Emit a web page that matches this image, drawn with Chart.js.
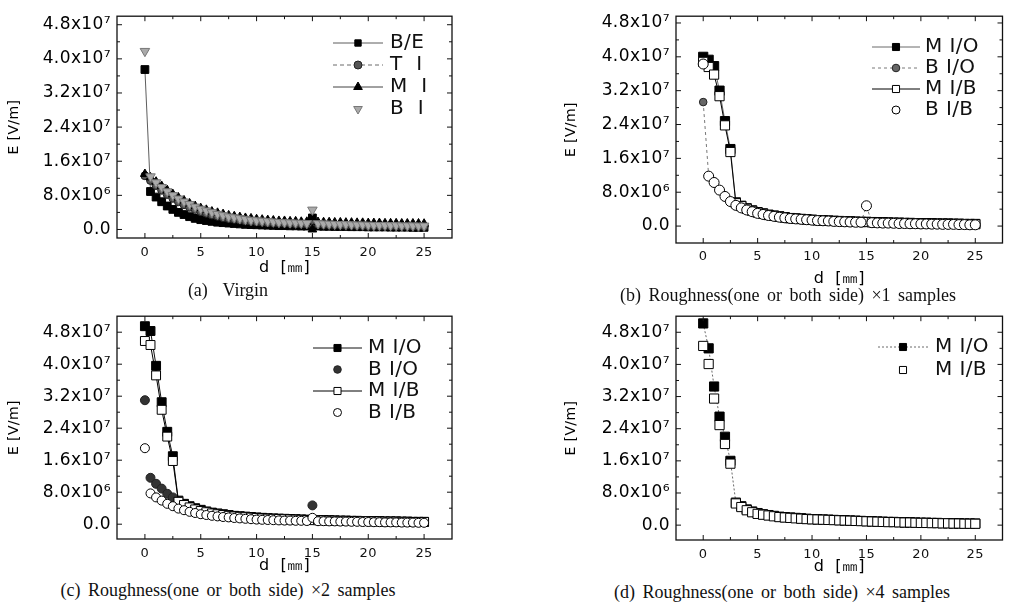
<!DOCTYPE html>
<html lang="en">
<head>
  <meta charset="UTF-8">
  <title>E vs d - Virgin and roughness samples</title>
  <script src="https://cdn.jsdelivr.net/npm/chart.js"></script>
  <style>
   body { margin: 0; width: 1010px; height: 602px; background: #fff; position: relative; overflow: hidden; }
   canvas { position: absolute; }
   .cap { position: absolute; font-family: "Liberation Serif", "Times New Roman", serif; font-size: 18px; line-height: 20px;
          color: #111; white-space: pre; transform: translateX(-50%); word-spacing: 3px; }
  </style>
</head>
<body>
  <canvas id="ca" width="460" height="280" style="left:0;top:0"></canvas>
  <canvas id="cb" width="453" height="288" style="left:557px;top:0"></canvas>
  <canvas id="cc" width="460" height="280" style="left:0;top:300px"></canvas>
  <canvas id="cd" width="453" height="280" style="left:557px;top:300px"></canvas>
  <div class="cap" style="left:228px;top:280px">(a)  Virgin</div>
  <div class="cap" style="left:788px;top:285px">(b) Roughness(one or both side) ×1 samples</div>
  <div class="cap" style="left:228px;top:580px">(c) Roughness(one or both side) ×2 samples</div>
  <div class="cap" style="left:782px;top:582px">(d) Roughness(one or both side) ×4 samples</div>

<script>
// distance d [mm] and field E in units of 10^6 V/m
const dmm = [0,0.5,1,1.5,2,2.5,3,3.5,4,4.5,5,
             5.5,6,6.5,7,7.5,8,8.5,9,9.5,10,
             10.5,11,11.5,12,12.5,13,13.5,14,14.5,15,
             15.5,16,16.5,17,17.5,18,18.5,19,19.5,20,
             20.5,21,21.5,22,22.5,23,23.5,24,24.5,25];

const xTicks = [0, 5, 10, 15, 20, 25];
const yTicks = [0, 8, 16, 24, 32, 40, 48];
const yTickLabels = ['0.0', '8.0x10⁶', '1.6x10⁷', '2.4x10⁷', '3.2x10⁷', '4.0x10⁷', '4.8x10⁷'];

// (a) Virgin
const aBE = [37.5,8.9,7.6,6.5,5.5,4.7,4.0,3.5,3.0,2.6,2.3,
             2.1,1.9,1.7,1.6,1.5,1.4,1.3,1.2,1.15,1.1,
             1.05,1.0,0.95,0.9,0.9,0.85,0.85,0.8,0.8,2.7,
             0.8,0.75,0.75,0.7,0.7,0.7,0.65,0.65,0.65,0.6,
             0.6,0.6,0.6,0.55,0.55,0.55,0.55,0.5,0.5,0.5];
const aTI = [12.6,11.5,10.3,9.2,8.2,7.3,6.5,5.8,5.2,4.7,4.2,
             3.8,3.4,3.1,2.8,2.6,2.4,2.2,2.0,1.9,1.8,
             1.7,1.6,1.55,1.5,1.45,1.4,1.35,1.3,1.25,1.2,
             1.2,1.15,1.1,1.1,1.05,1.0,1.0,0.95,0.95,0.9,
             0.9,0.9,0.85,0.85,0.8,0.8,0.8,0.75,0.75,0.7];
const aMI = [13.0,12.2,11.2,10.2,9.2,8.3,7.5,6.8,6.1,5.5,5.0,
             4.6,4.2,3.9,3.6,3.3,3.1,2.9,2.7,2.6,2.4,
             2.3,2.2,2.1,2.0,2.0,1.9,1.9,1.8,1.8,0.0,
             1.75,1.7,1.7,1.65,1.65,1.6,1.6,1.55,1.55,1.5,
             1.5,1.5,1.45,1.45,1.45,1.4,1.4,1.4,1.4,1.35];
const aBI = [41.8,12.4,11.0,9.9,8.9,8.0,7.2,6.5,5.9,5.3,4.8,
             4.4,4.0,3.6,3.3,3.0,2.8,2.6,2.4,2.2,2.1,
             2.0,1.9,1.8,1.7,1.65,1.6,1.55,1.5,1.45,4.6,
             1.4,1.35,1.3,1.25,1.2,1.2,1.15,1.1,1.1,1.05,
             1.0,1.0,1.0,0.95,0.95,0.9,0.9,0.9,0.85,0.85];

// (b) x1 samples
const bMIO = [40.0,39.3,37.8,32.0,24.8,18.2,5.6,4.8,4.2,3.7,3.3,
              3.0,2.7,2.5,2.3,2.1,1.9,1.8,1.7,1.6,1.5,
              1.4,1.35,1.3,1.25,1.2,1.15,1.1,1.05,1.0,1.0,
              0.95,0.9,0.9,0.85,0.8,0.8,0.75,0.75,0.7,0.7,
              0.65,0.65,0.6,0.6,0.6,0.55,0.55,0.5,0.5,0.5];
const bBIO = [29.3,11.9,10.4,8.6,7.1,5.9,5.0,4.4,3.9,3.4,3.0,
              2.75,2.5,2.3,2.1,1.95,1.8,1.7,1.6,1.5,1.4,
              1.3,1.25,1.2,1.1,1.05,1.0,0.95,0.9,0.9,4.7,
              0.8,0.75,0.7,0.7,0.65,0.6,0.6,0.55,0.55,0.5,
              0.5,0.45,0.45,0.4,0.4,0.4,0.35,0.35,0.3,0.3];
const bMIB = [38.8,37.6,35.8,30.7,23.8,17.5,5.4,4.7,4.1,3.6,3.2,
              2.9,2.6,2.4,2.2,2.0,1.85,1.75,1.65,1.55,1.45,
              1.35,1.3,1.25,1.2,1.15,1.1,1.05,1.0,0.95,0.95,
              0.9,0.85,0.85,0.8,0.75,0.75,0.7,0.7,0.65,0.65,
              0.6,0.6,0.55,0.55,0.55,0.5,0.5,0.45,0.45,0.45];
const bBIB = [38.3,11.8,10.3,8.5,7.0,5.8,4.9,4.3,3.8,3.4,3.0,
              2.75,2.5,2.3,2.1,1.95,1.8,1.7,1.6,1.5,1.4,
              1.3,1.25,1.2,1.1,1.05,1.0,0.95,0.9,0.9,4.8,
              0.8,0.75,0.7,0.7,0.65,0.6,0.6,0.55,0.55,0.5,
              0.5,0.45,0.45,0.4,0.4,0.4,0.35,0.35,0.3,0.3];

// (c) x2 samples
const cMIO = [49.5,48.3,39.6,30.5,23.1,17.0,5.9,5.1,4.5,4.0,3.6,
              3.2,2.9,2.7,2.5,2.3,2.1,2.0,1.9,1.8,1.7,
              1.6,1.5,1.45,1.4,1.35,1.3,1.25,1.2,1.15,1.1,
              1.05,1.0,1.0,0.95,0.9,0.9,0.85,0.85,0.8,0.8,
              0.75,0.75,0.7,0.7,0.7,0.65,0.65,0.6,0.6,0.6];
const cBIO = [31.0,11.6,10.1,8.9,7.6,6.7,5.2,4.3,3.6,3.0,2.7,
              2.5,2.3,2.1,1.95,1.85,1.75,1.65,1.55,1.45,1.35,
              1.3,1.25,1.2,1.15,1.1,1.05,1.0,1.0,0.95,4.7,
              0.9,0.9,0.85,0.85,0.8,0.8,0.75,0.75,0.7,0.7,
              0.65,0.65,0.6,0.6,0.6,0.55,0.55,0.5,0.5,0.5];
const cMIB = [45.8,44.8,37.2,28.6,21.9,15.8,5.6,4.8,4.2,3.7,3.3,
              3.0,2.7,2.5,2.3,2.1,1.95,1.85,1.75,1.65,1.55,
              1.45,1.4,1.35,1.3,1.25,1.2,1.15,1.1,1.05,1.0,
              1.0,0.95,0.9,0.9,0.85,0.85,0.8,0.8,0.75,0.75,
              0.7,0.7,0.65,0.65,0.65,0.6,0.6,0.55,0.55,0.55];
const cBIB = [19.0,7.7,6.7,5.9,5.1,4.5,3.9,3.5,3.1,2.8,2.5,
              2.3,2.1,1.95,1.8,1.7,1.55,1.45,1.35,1.25,1.15,
              1.1,1.05,1.0,0.95,0.9,0.9,0.85,0.85,0.8,1.6,
              0.75,0.75,0.7,0.7,0.65,0.65,0.6,0.6,0.55,0.55,
              0.5,0.5,0.45,0.45,0.45,0.4,0.4,0.4,0.35,0.35];

// (d) x4 samples
const dMIO = [50.2,44.0,34.5,27.0,22.0,16.0,5.6,4.7,3.9,3.4,3.0,
              2.7,2.5,2.3,2.1,2.0,1.9,1.8,1.7,1.6,1.5,
              1.45,1.4,1.35,1.3,1.25,1.2,1.15,1.1,1.05,1.0,
              0.95,0.9,0.85,0.8,0.8,0.75,0.7,0.7,0.65,0.6,
              0.6,0.55,0.55,0.5,0.5,0.45,0.45,0.4,0.4,0.4];
const dMIB = [44.6,40.1,31.5,24.9,20.2,15.3,5.4,4.5,3.7,3.2,2.8,
              2.6,2.4,2.2,2.0,1.9,1.8,1.7,1.6,1.5,1.45,
              1.4,1.35,1.3,1.25,1.2,1.15,1.1,1.05,1.0,0.95,
              0.9,0.85,0.8,0.75,0.75,0.7,0.65,0.65,0.6,0.55,
              0.55,0.5,0.5,0.45,0.45,0.4,0.4,0.35,0.35,0.35];

const SANS = '"DejaVu Sans", Verdana, sans-serif';

function pts(ys) { return dmm.map((d, i) => ({ x: d, y: ys[i] })); }

// styles of the marker kinds
function sq(filled, r)   { return { pointStyle: 'rect', pointRadius: r, pointBackgroundColor: filled ? '#000' : '#fff', pointBorderColor: '#000' }; }
function circ(fill, r)   { return { pointStyle: 'circle', pointRadius: r, pointBackgroundColor: fill, pointBorderColor: fill === '#fff' ? '#000' : '#222' }; }
function line(color, w, dash) { return { showLine: true, borderColor: color, borderWidth: w, borderDash: dash || [] }; }
const noLine = { showLine: false, borderColor: '#000', borderWidth: 1 };

function ds(label, ys, order, marker, ln, legR) {
  return Object.assign({ label: label, data: pts(ys), order: order, pointBorderWidth: 1, legendRadius: legR, tension: 0 }, marker, ln);
}

// the scanned lettering is wide: a little letter spacing for all canvas text
const wideText = {
  id: 'wideText',
  beforeInit(chart) { chart.ctx.letterSpacing = '0.4px'; },
  beforeDraw(chart) { chart.ctx.letterSpacing = '0.4px'; }
};

// frame round the plot with inward ticks on all four sides
const framePlugin = {
  id: 'frame',
  afterDatasetsDraw(chart) {
    const { ctx, chartArea: a, scales: { x, y } } = chart;
    ctx.save();
    ctx.strokeStyle = '#111';
    ctx.lineWidth = 1.3;
    ctx.strokeRect(a.left, a.top, a.right - a.left, a.bottom - a.top);
    ctx.lineWidth = 1;
    ctx.beginPath();
    xTicks.forEach((v, i) => {
      const p = x.getPixelForValue(v);
      ctx.moveTo(p, a.bottom); ctx.lineTo(p, a.bottom - 5);
      ctx.moveTo(p, a.top);    ctx.lineTo(p, a.top + 5);
      if (i < xTicks.length - 1) {
        const m = x.getPixelForValue((v + xTicks[i + 1]) / 2);
        ctx.moveTo(m, a.bottom); ctx.lineTo(m, a.bottom - 3);
        ctx.moveTo(m, a.top);    ctx.lineTo(m, a.top + 3);
      }
    });
    yTicks.forEach((v, i) => {
      const p = y.getPixelForValue(v);
      ctx.moveTo(a.left, p);  ctx.lineTo(a.left + 5, p);
      ctx.moveTo(a.right, p); ctx.lineTo(a.right - 5, p);
      if (i < yTicks.length - 1) {
        const m = y.getPixelForValue((v + yTicks[i + 1]) / 2);
        ctx.moveTo(a.left, m);  ctx.lineTo(a.left + 3, m);
        ctx.moveTo(a.right, m); ctx.lineTo(a.right - 3, m);
      }
    });
    ctx.stroke();
    ctx.restore();
  }
};

// legend inside the plot: line - marker - line, then label
const boxLegend = {
  id: 'boxLegend',
  afterDraw(chart, args, o) {
    const ctx = chart.ctx;
    ctx.save();
    chart.data.datasets.forEach((d, i) => {
      const yy = o.top + i * o.gap;
      const mx = o.left + o.len / 2;
      if (d.showLine) {
        ctx.strokeStyle = d.borderColor; ctx.lineWidth = d.borderWidth;
        ctx.setLineDash(d.borderDash || []);
        ctx.beginPath(); ctx.moveTo(o.left, yy); ctx.lineTo(o.left + o.len, yy); ctx.stroke();
        ctx.setLineDash([]);
      }
      ctx.fillStyle = d.pointBackgroundColor; ctx.strokeStyle = d.pointBorderColor; ctx.lineWidth = 1;
      Chart.helpers.drawPoint(ctx, { pointStyle: d.pointStyle, rotation: d.pointRotation || 0,
                                     radius: d.legendRadius, borderWidth: 1 }, mx, yy);
      ctx.fillStyle = '#111'; ctx.font = o.font; ctx.textAlign = 'left'; ctx.textBaseline = 'middle';
      ctx.fillText(d.label, o.textX, yy);
    });
    ctx.restore();
  }
};

function panel(id, datasets, c) {
  return new Chart(document.getElementById(id), {
    type: 'scatter',
    data: { datasets: datasets },
    plugins: [wideText, framePlugin, boxLegend],
    options: {
      responsive: false, animation: false, devicePixelRatio: 1,
      layout: { padding: { left: 0, top: c.padTop, right: c.padRight, bottom: 0 } },
      scales: {
        x: {
          type: 'linear', min: -2.5, max: 27.5,
          afterBuildTicks: s => { s.ticks = xTicks.map(v => ({ value: v })); },
          afterFit: s => { s.height = c.xH; },
          grid: { display: false, drawTicks: false }, border: { display: false },
          ticks: { padding: c.xPad, color: '#111', maxRotation: 0, font: { family: SANS, size: 13 }, callback: v => String(v) },
          title: { display: true, text: 'd  [㎜]', color: '#000', font: { family: SANS, size: 16 }, padding: { top: 0, bottom: c.titleB } }
        },
        y: {
          min: c.yMin, max: c.yMax,
          afterBuildTicks: s => { s.ticks = yTicks.map(v => ({ value: v })); },
          afterFit: s => { s.width = c.yW; },
          grid: { display: false, drawTicks: false }, border: { display: false },
          ticks: { padding: 6, color: '#000', font: { family: SANS, size: 17 }, callback: v => yTickLabels[yTicks.indexOf(v)] },
          title: { display: true, text: 'E [V/m]', color: '#000', font: { family: SANS, size: 14 }, padding: { top: 6, bottom: 0 } }
        }
      },
      plugins: {
        legend: { display: false }, tooltip: { enabled: false },
        boxLegend: c.legend
      }
    }
  });
}

const LEG_FONT = '20px ' + SANS;

panel('ca', [
  ds('B/E',  aBE, 4, sq(true, 5.5), line('#333', 0.8), 4.5),
  ds('T  I', aTI, 3, circ('#555', 4), line('#444', 0.8, [4, 3]), 4),
  ds('M  I', aMI, 2, { pointStyle: 'triangle', pointRadius: 5, pointBackgroundColor: '#000', pointBorderColor: '#000' }, line('#111', 0.8), 5),
  ds('B  I', aBI, 1, { pointStyle: 'triangle', pointRotation: 180, pointRadius: 5.5, pointBackgroundColor: '#aaa', pointBorderColor: '#777' }, noLine, 5)
], { padTop: 10, padRight: 8, yW: 117, xH: 42, xPad: 7, titleB: 3, yMin: -2, yMax: 50,
     legend: { left: 333, len: 50, textX: 390, top: 43, gap: 22, font: LEG_FONT } });

panel('cb', [
  ds('M I/O', bMIO, 4, sq(true, 6.5), line('#444', 0.8), 5),
  ds('B I/O', bBIO, 3, circ('#666', 3.8), line('#555', 0.8, [3, 3]), 3.8),
  ds('M I/B', bMIB, 2, sq(false, 6.5), line('#000', 1), 5),
  ds('B I/B', bBIB, 1, circ('#fff', 5), noLine, 4)
], { padTop: 15, padRight: 3, yW: 119, xH: 45, xPad: 6, titleB: 0, yMin: -4, yMax: 49.6,
     legend: { left: 315, len: 48, textX: 368, top: 47, gap: 21, font: LEG_FONT } });

panel('cc', [
  ds('M I/O', cMIO, 4, sq(true, 6.3), line('#111', 1), 5),
  ds('B I/O', cBIO, 3, circ('#333', 4.5), noLine, 3.8),
  ds('M I/B', cMIB, 2, sq(false, 6.3), line('#000', 1), 5),
  ds('B I/B', cBIB, 1, circ('#fff', 4.5), noLine, 4)
], { padTop: 13, padRight: 8, yW: 117, xH: 41, xPad: 7, titleB: 4.5, yMin: -3.7, yMax: 52,
     legend: { left: 313, len: 49, textX: 368, top: 48, gap: 21.5, font: LEG_FONT } });

panel('cd', [
  ds('M I/O', dMIO, 2, sq(true, 6.5), line('#444', 0.8, [2, 2]), 5),
  ds('M I/B', dMIB, 1, sq(false, 6.5), noLine, 5)
], { padTop: 13, padRight: 3, yW: 119, xH: 40, xPad: 7, titleB: 3.5, yMin: -3.7, yMax: 52,
     legend: { left: 321, len: 50, textX: 378, top: 47, gap: 23, font: LEG_FONT } });
</script>
</body>
</html>
